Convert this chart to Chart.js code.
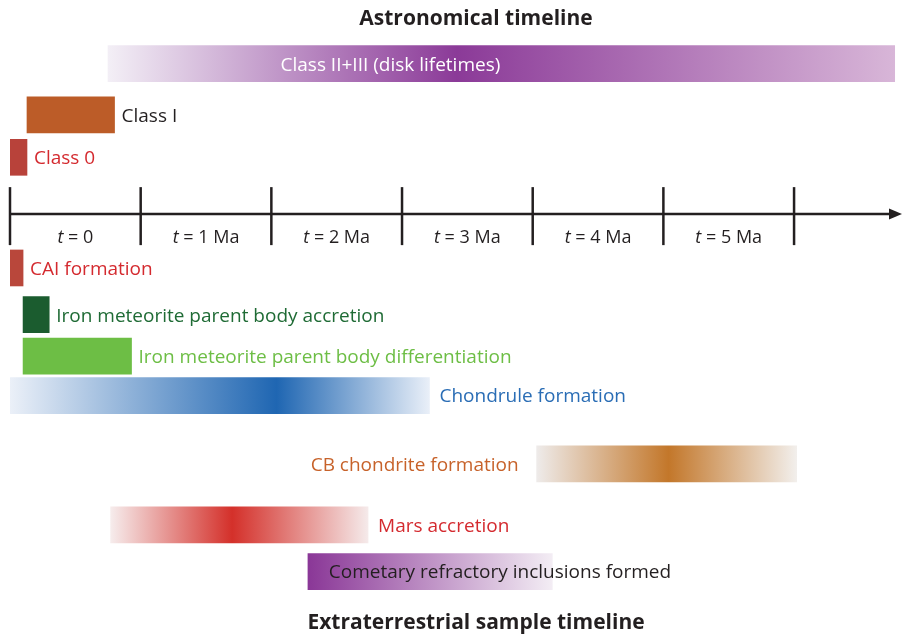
<!DOCTYPE html>
<html lang="en">
<head>
<meta charset="UTF-8">
<title>Astronomical and extraterrestrial sample timelines</title>
<script src="https://cdn.jsdelivr.net/npm/chart.js"></script>
<style>
  html, body { margin: 0; padding: 0; background: #fff; }
  #wrap { width: 905px; height: 636px; }
</style>
</head>
<body>
<div id="wrap"><canvas id="timeline"></canvas></div>
<script>
// events, in Ma after CAI formation (t = 0)
const events = [
  'Class II+III (disk lifetimes)',
  'Class I',
  'Class 0',
  'CAI formation',
  'Iron meteorite parent body accretion',
  'Iron meteorite parent body differentiation',
  'Chondrule formation',
  'CB chondrite formation',
  'Mars accretion',
  'Cometary refractory inclusions formed'
];
const starts = [0.75, 0.13, 0.0, 0.0, 0.10, 0.10, 0.0, 4.03, 0.77, 2.28];
const ends   = [6.77, 0.80, 0.13, 0.10, 0.30, 0.93, 3.21, 6.02, 2.74, 4.15];
// where the colour of a fuzzy bar is strongest (Ma)
const peaks  = [3.42, null, null, null, null, null, 2.04, 5.04, 1.70, 2.28];

const tickValues = [0, 1, 2, 3, 4, 5, 6];
const tickLabels = ['0', '1 Ma', '2 Ma', '3 Ma', '4 Ma', '5 Ma'];

// lane of each event on the vertical layout axis, and of the time arrow
const lanes = [0, 1.21, 2.21, 4.82, 5.92, 6.90, 7.83, 9.44, 10.88, 11.98];
const axisLane = 3.55;

// styles
const barColors = [
  ['#f3eff6', '#8b3a98', '#d8b6d8'],
  '#bc5c28',
  '#b8423a',
  '#b9473b',
  '#1b5c2f',
  '#6dbe45',
  ['#ebf0f8', '#1f66b2', '#e9eff8'],
  ['#eeebea', '#c3772a', '#f2efec'],
  ['#f6ecec', '#d4302a', '#f5eaea'],
  ['#8a3797', '#8a3797', '#f3edf4']
];
const labelColors = ['#ffffff', '#231f20', '#d42a2f', '#d42a2f', '#1f6b35', '#6dbe45',
                     '#2a6db5', '#c7622a', '#d42a2f', '#231f20'];
const labelSide = ['inside', 'right', 'right', 'right', 'right', 'right', 'right', 'left', 'right', 'inside'];
const labelAt = [2.07, null, null, null, null, null, null, null, null, 2.44];

const FONT = '"Open Sans", "Noto Sans", sans-serif';

function barFill(ctx) {
  const i = ctx.dataIndex;
  const c = barColors[i];
  if (typeof c === 'string') return c;
  const chart = ctx.chart;
  if (!chart.chartArea) return c[1];
  const x = chart.scales.x;
  const x0 = x.getPixelForValue(starts[i]);
  const x1 = x.getPixelForValue(ends[i]);
  const p = (peaks[i] - starts[i]) / (ends[i] - starts[i]);
  const g = chart.ctx.createLinearGradient(x0, 0, x1, 0);
  g.addColorStop(0, c[0]);
  g.addColorStop(Math.min(Math.max(p, 0), 1), c[1]);
  g.addColorStop(1, c[2]);
  return g;
}

const decor = {
  id: 'decor',
  afterDatasetsDraw(chart) {
    const { ctx, chartArea } = chart;
    const x = chart.scales.x, y = chart.scales.y;
    const ay = y.getPixelForValue(axisLane);
    const ink = '#231f20';
    ctx.save();

    // time arrow
    ctx.strokeStyle = ink;
    ctx.fillStyle = ink;
    ctx.lineWidth = 2.5;
    ctx.beginPath();
    ctx.moveTo(x.getPixelForValue(0), ay);
    ctx.lineTo(chartArea.right - 10, ay);
    ctx.stroke();
    ctx.beginPath();
    ctx.moveTo(chartArea.right, ay);
    ctx.lineTo(chartArea.right - 13, ay - 5.5);
    ctx.lineTo(chartArea.right - 13, ay + 5.5);
    ctx.closePath();
    ctx.fill();
    tickValues.forEach(v => {
      const px = x.getPixelForValue(v);
      ctx.beginPath();
      ctx.moveTo(px, ay - 27);
      ctx.lineTo(px, ay + 31);
      ctx.stroke();
    });

    // interval labels: italic t
    ctx.textBaseline = 'middle';
    ctx.textAlign = 'left';
    tickLabels.forEach((lab, i) => {
      const cx = x.getPixelForValue(i + 0.5);
      const rest = ' = ' + lab;
      ctx.font = 'italic 18px ' + FONT;
      const wt = ctx.measureText('t').width;
      ctx.font = '18px ' + FONT;
      const wr = ctx.measureText(rest).width;
      const left = cx - (wt + wr) / 2;
      ctx.font = 'italic 18px ' + FONT;
      ctx.fillText('t', left, ay + 24);
      ctx.font = '18px ' + FONT;
      ctx.fillText(rest, left + wt, ay + 24);
    });

    // event labels
    ctx.font = '19px ' + FONT;
    events.forEach((name, i) => {
      const py = y.getPixelForValue(lanes[i]) + 1.5;
      ctx.fillStyle = labelColors[i];
      if (labelSide[i] === 'inside') {
        ctx.textAlign = 'left';
        ctx.fillText(name, x.getPixelForValue(labelAt[i]), py);
      } else if (labelSide[i] === 'left') {
        ctx.textAlign = 'right';
        ctx.fillText(name, x.getPixelForValue(starts[i]) - 18, py);
      } else {
        ctx.textAlign = 'left';
        const gap = peaks[i] === null ? 7 : 10;
        ctx.fillText(name, x.getPixelForValue(ends[i]) + gap, py);
      }
    });

    // titles
    ctx.fillStyle = ink;
    ctx.textAlign = 'center';
    ctx.font = 'bold 21px ' + FONT;
    ctx.fillText('Astronomical timeline', 476, 19);
    ctx.fillText('Extraterrestrial sample timeline', 476, 623);
    ctx.restore();
  }
};

new Chart(document.getElementById('timeline'), {
  type: 'bar',
  data: {
    labels: events,
    datasets: [{
      data: events.map((e, i) => ({ x: [starts[i], ends[i]], y: lanes[i] })),
      backgroundColor: barFill,
      borderWidth: 0,
      borderSkipped: false,
      barThickness: 36
    }]
  },
  options: {
    indexAxis: 'y',
    responsive: true,
    maintainAspectRatio: false,
    animation: false,
    layout: { padding: { left: 10, right: 3, top: 0, bottom: 0 } },
    scales: {
      x: { type: 'linear', min: 0, max: 6.826, display: false, offset: false },
      y: { type: 'linear', min: -1.5, max: 13.5, reverse: true, display: false, offset: false }
    },
    plugins: {
      legend: { display: false },
      tooltip: { enabled: false }
    }
  },
  plugins: [decor]
});
</script>
</body>
</html>
